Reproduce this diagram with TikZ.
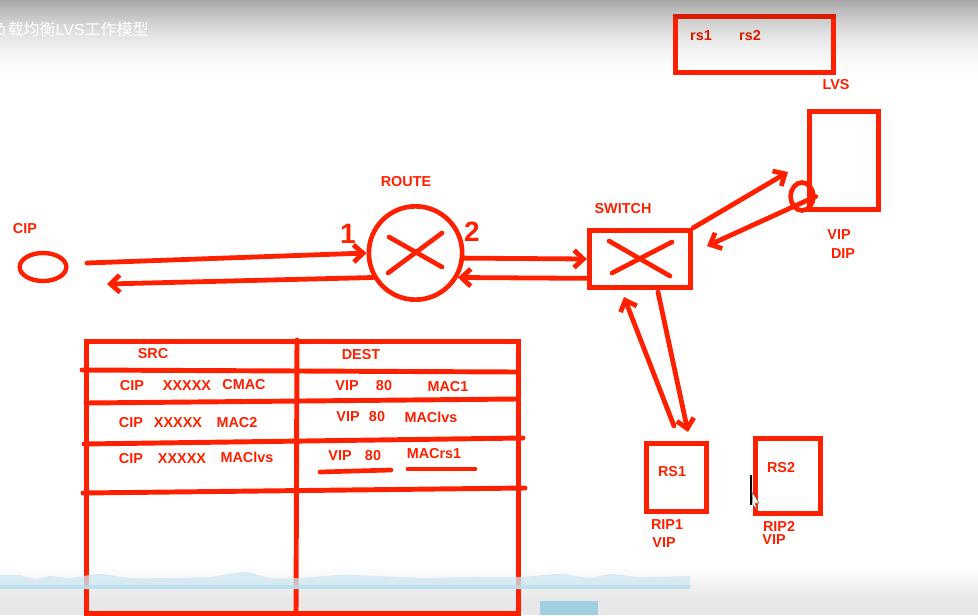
\documentclass[tikz,border=0pt]{standalone}
\usepackage{fontspec}
\setmainfont{Liberation Sans}
\newfontfamily\cjk{Noto Sans CJK SC}
\usepackage{xcolor}
\usetikzlibrary{arrows.meta, shapes.geometric}
\definecolor{penred}{HTML}{FF2000}
\definecolor{dimred}{HTML}{D81C00}
\definecolor{wave}{HTML}{CDE7F2}
\definecolor{waveline}{HTML}{B8DDEE}
\definecolor{barblue}{HTML}{A3D0E0}

\begin{document}
\begin{tikzpicture}[
  x=0.75pt, y=-0.75pt,
  box/.style={draw=penred, line width=3.7pt, inner sep=0pt},
  lab/.style={text=penred, font=\fontsize{10.8}{12}\selectfont\bfseries, inner sep=0pt},
  digit/.style={text=penred, font=\fontsize{21}{24}\selectfont\bfseries, inner sep=0pt},
  arr/.style={-{Straight Barb[length=7pt,width=13pt]}, draw=penred, line width=3.6pt, line cap=round},
  pen/.style={draw=penred, line width=3.5pt, line cap=round},
  rowline/.style={draw=penred, line width=3.7pt, line cap=round}
]
  \useasboundingbox (0,0) rectangle (978,615);
  % video player layers
  \foreach \i in {0,...,39} {
    \pgfmathsetmacro{\pct}{34*(1-\i/40)*(1-\i/40)}
    \fill[black!\pct] (0,2*\i) rectangle (978,2*\i+3);
  }
  \fill[white] (0,80) rectangle (978,83);
  \foreach \i in {0,...,17} {
    \pgfmathsetmacro{\pct}{9*\i/17}
    \fill[black!\pct] (0,565+2*\i) rectangle (978,615);
  }
  \fill[barblue] (540,601) rectangle (598,615);

  % devices
  \node[box, ellipse, line width=3.3pt, minimum width=35pt, minimum height=21pt] (cip) at (43,267) {};
  \node[box, circle, line width=3.5pt, minimum size=70pt] (route) at (415.5,253) {};
  \node[box, minimum width=76pt, minimum height=43pt] (switch) at (640,259) {};
  \node[box, minimum width=52pt, minimum height=73.5pt] (lvs) at (844,160.5) {};
  \node[box, ellipse, line width=3.5pt, minimum width=17pt, minimum height=21pt] (vipport) at (802,196.5) {};
  \node[box, minimum width=45pt, minimum height=51pt] (rsone) at (676.5,477.5) {};
  \node[box, minimum width=49pt, minimum height=56pt] (rstwo) at (788,476) {};
  \node[box, outer sep=0pt, minimum width=118.5pt, minimum height=42pt] (rslist) at (754.5,44.5) {};
  \draw[draw=dimred, line width=3.7pt, line cap=rect] (rslist.north west) -- (rslist.north east);

  % table
  \node[box, minimum width=324pt, minimum height=204pt] (tbl) at (302.5,477.5) {};
  \draw[rowline] (297,340) -- (296,615);
  \draw[rowline] (82,370) -- (517,372);
  \draw[rowline] (86,403) -- (517,399);
  \draw[rowline] (84,444) -- (523,438);
  \draw[rowline] (83,493) -- (525,488);
  \draw[pen] (320,472) -- (391,470);
  \draw[pen] (408,469) -- (475,469);

  % crosses
  \draw[pen] (389,237) -- (442,267);
  \draw[pen] (388,273) -- (442,233);
  \draw[pen] (609,241) -- (670,276);
  \draw[pen] (612,273) -- (672,242);

  % free ends
  \coordinate (cipout) at (87,263);
  \coordinate (cipin) at (107,284);
  \coordinate (lvsin) at (788,172);
  \coordinate (switchin) at (707,246);
  \coordinate (rsonein) at (688,432);
  \coordinate (rsoneout) at (674,426);
  \coordinate (switchout) at (658,292);
  \coordinate (switchback) at (624,297);

  \draw[arr] (cipout) -- (route.west);
  \draw[arr] (route.210) -- (cipin);
  \draw[arr] (route.-6) -- (switch.west);
  \draw[arr] (switch.200) -- (route.-30);
  \draw[arr] (switch.north east) -- (lvsin);
  \draw[arr] (vipport.east) -- (switchin);
  \draw[arr] (switchout) -- (rsonein);
  \draw[arr] (rsoneout) -- (switchback);

  \node[lab] (ciplab) at (25,229) {CIP};
  \node[lab] (routelab) at (406,182) {ROUTE};
  \node[digit] (one) at (348,234) {1};
  \node[digit] (two) at (472,232) {2};
  \node[lab] (switchlab) at (623,209) {SWITCH};
  \node[lab] (lvslab) at (836,85) {LVS};
  \node[lab, text=dimred] (rsa) at (701,36) {rs1};
  \node[lab, text=dimred] (rsb) at (750,36) {rs2};
  \node[lab] (vipa) at (839,235) {VIP};
  \node[lab] (dip) at (843,254) {DIP};
  \node[lab] (rsonelab) at (672,472) {RS1};
  \node[lab] (rstwolab) at (781,468) {RS2};
  \node[lab] (ripone) at (667,525) {RIP1};
  \node[lab] (vipb) at (664,543) {VIP};
  \node[lab] (riptwo) at (779,526) {RIP2};
  \node[lab] (vipc) at (774,540) {VIP};

  \node[lab] (src) at (153,354) {SRC};
  \node[lab] (dest) at (361,355) {DEST};
  \node[lab] at (132,386) {CIP};
  \node[lab] at (187,386) {XXXXX};
  \node[lab] at (244,385) {CMAC};
  \node[lab] at (347,386) {VIP};
  \node[lab] at (384,386) {80};
  \node[lab] at (448,387) {MAC1};
  \node[lab] at (131,423) {CIP};
  \node[lab] at (178,423) {XXXXX};
  \node[lab] at (237,423) {MAC2};
  \node[lab] at (348,417) {VIP};
  \node[lab] at (377,417) {80};
  \node[lab] at (431,417) {MAClvs};
  \node[lab] at (131,459) {CIP};
  \node[lab] at (182,459) {XXXXX};
  \node[lab] at (247,457) {MAClvs};
  \node[lab] at (340,456) {VIP};
  \node[lab] at (373,456) {80};
  \node[lab] at (434,454) {MACrs1};

  \fill[wave, opacity=.75] (0,575) -- plot[smooth] coordinates {(20,575) (35,579) (50,576) (70,578) (100,574) (130,578) (170,578) (210,577) (245,572) (270,578) (300,578) (340,575) (380,576) (420,578) (470,577) (520,577) (560,574) (590,578) (610,574) (640,577) (690,576)} -- (690,589) -- (0,589) -- cycle;
  \fill[waveline, opacity=.8] (0,585) rectangle (690,589);
  \draw[black, line width=.9pt] (751,475) -- (751,505);
  \fill[white, draw=gray, line width=.5pt] (752,492) -- (759,503) -- (755,503) -- (757,509) -- (753,505) -- cycle;
  \node[text=white, font=\cjk\fontsize{12}{14}\selectfont, anchor=east, inner sep=0pt] (title) at (149,29) {负载均衡{\rmfamily LVS}工作模型};
\end{tikzpicture}
\end{document}
